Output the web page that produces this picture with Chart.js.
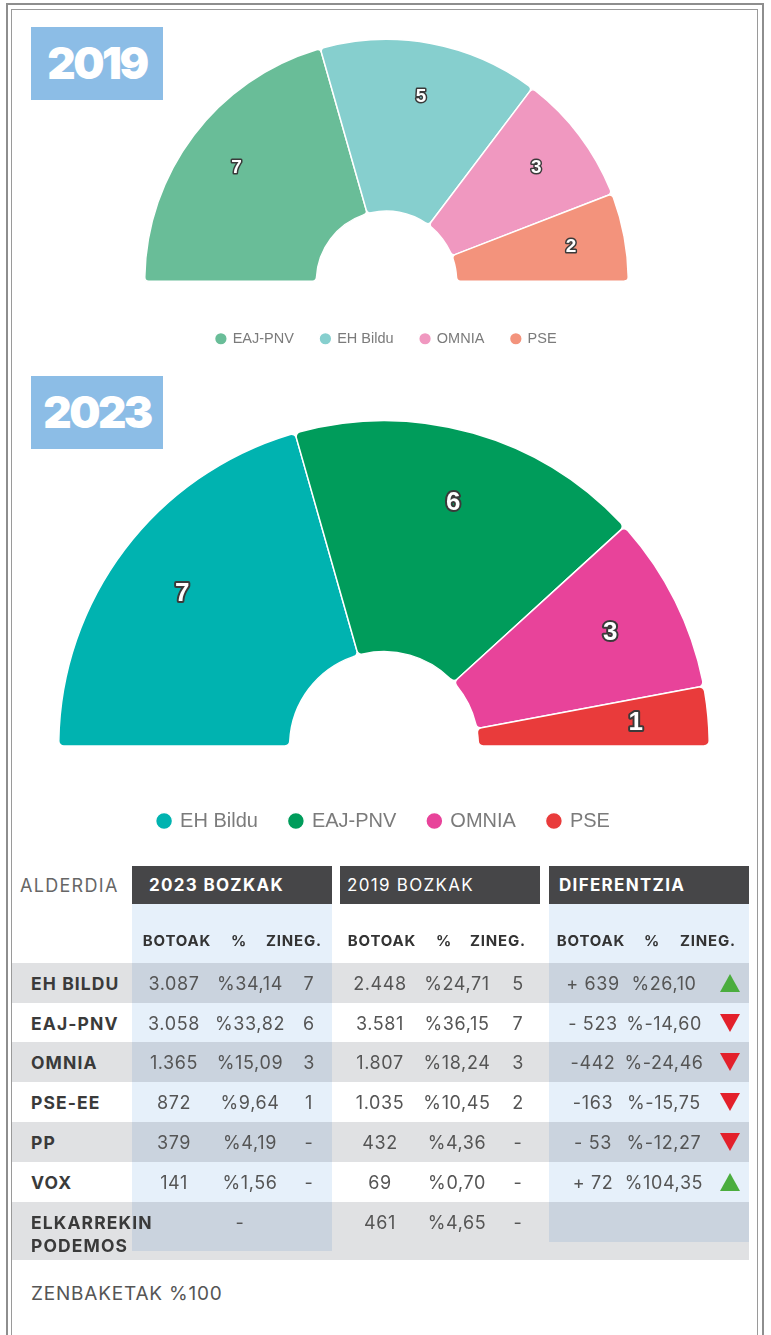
<!DOCTYPE html>
<html>
<head>
<meta charset="utf-8">
<script src="https://cdn.jsdelivr.net/npm/chart.js@4.4.1/dist/chart.umd.min.js"></script>
<style>
  html, body { margin: 0; padding: 0; background: #fff; }
  body { width: 771px; height: 1335px; position: relative; overflow: hidden; font-family: 'Inter', 'Liberation Sans', sans-serif; }
  .frame-out { position: absolute; left: 6px; top: 3px; width: 754px; height: 1340px; border: 2px solid #8e8e8e; border-bottom: none; }
  .frame-in { position: absolute; left: 11px; top: 9px; width: 745px; height: 1340px; border: 1.5px solid #9a9a9a; border-bottom: none; }
  .year { position: absolute; left: 31px; width: 132px; height: 73px; background: #8cbde6; color: #fff;
          font-family: 'Inter', sans-serif; font-weight: 900; font-size: 44px; letter-spacing: -2.5px;
          line-height: 73px; text-align: center; z-index: 2; }
  canvas { position: absolute; left: 0; }
  .cell { position: absolute; white-space: nowrap; }
  .hdr { position: absolute; top: 866px; height: 38px; width: 200px; background: #464648; color: #fff;
         font-size: 17px; line-height: 38px; letter-spacing: 1.3px; box-sizing: border-box; padding-left: 17px; }
  .row-bg { position: absolute; left: 12px; width: 737px; background: #e0e1e3; }
  .blue { position: absolute; background: #e6f0fa; mix-blend-mode: multiply; }
  .sub { font-weight: 700; font-size: 15px; color: #333; letter-spacing: 0.8px; transform: translate(-50%, -50%); }
  .val { font-size: 18px; color: #555; letter-spacing: 0.6px; transform: translate(-50%, -50%); }
  .lbl { font-weight: 700; font-size: 17.5px; color: #3a3a3a; letter-spacing: 1.1px; left: 31px; transform: translateY(-50%); line-height: 23px; }
  .tri-up { position: absolute; width: 0; height: 0; border-left: 10px solid transparent; border-right: 10px solid transparent; border-bottom: 18px solid #4bad3e; }
  .tri-down { position: absolute; width: 0; height: 0; border-left: 10px solid transparent; border-right: 10px solid transparent; border-top: 18px solid #e3202b; }
</style>
</head>
<body>
<div class="frame-out"></div>
<div class="frame-in"></div>
<div class="year" style="top:27px">2019</div>
<div class="year" style="top:376px">2023</div>
<canvas id="chart2019" width="771" height="356" style="top:0px"></canvas>
<canvas id="chart2023" width="771" height="481" style="top:360px"></canvas>
<div id="table"></div>

<script>
// seats per party (doughnut, left to right)
const parties2019 = ['EAJ-PNV', 'EH Bildu', 'OMNIA', 'PSE'];
const seats2019 = [7, 5, 3, 2];
const colors2019 = ['#69bd98', '#86cfce', '#f098c0', '#f3937c'];

const parties2023 = ['EH Bildu', 'EAJ-PNV', 'OMNIA', 'PSE'];
const seats2023 = [7, 6, 3, 1];
const colors2023 = ['#00b3b0', '#009c5b', '#e8439a', '#e93b3b'];

// table
const tableParties = ['EH BILDU', 'EAJ-PNV', 'OMNIA', 'PSE-EE', 'PP', 'VOX', 'ELKARREKIN\nPODEMOS'];
const votes2023 = ['3.087', '3.058', '1.365', '872', '379', '141', ''];
const pct2023 = ['%34,14', '%33,82', '%15,09', '%9,64', '%4,19', '%1,56', '-'];
const zineg2023 = ['7', '6', '3', '1', '-', '-', ''];
const votes2019 = ['2.448', '3.581', '1.807', '1.035', '432', '69', '461'];
const pct2019 = ['%24,71', '%36,15', '%18,24', '%10,45', '%4,36', '%0,70', '%4,65'];
const zineg2019 = ['5', '7', '3', '2', '-', '-', '-'];
const diffVotes = ['+ 639', '- 523', '-442', '-163', '- 53', '+ 72', ''];
const diffPct = ['%26,10', '%-14,60', '%-24,46', '%-15,75', '%-12,27', '%104,35', ''];
const trend = ['up', 'down', 'down', 'down', 'down', 'up', ''];

// white numbers with dark outline inside each slice
const seatLabels = {
  id: 'seatLabels',
  afterDatasetsDraw(chart, args, opts) {
    const ctx = chart.ctx;
    const meta = chart.getDatasetMeta(0);
    ctx.save();
    ctx.font = 'bold ' + opts.size + 'px "Liberation Sans", Arial, sans-serif';
    ctx.textAlign = 'center';
    ctx.textBaseline = 'middle';
    ctx.lineJoin = 'round';
    ctx.lineWidth = opts.stroke;
    ctx.strokeStyle = '#3a3a3a';
    ctx.fillStyle = '#ffffff';
    meta.data.forEach((arc, i) => {
      const p = arc.getProps(['x', 'y', 'startAngle', 'endAngle', 'outerRadius'], true);
      const mid = (p.startAngle + p.endAngle) / 2;
      const r = p.outerRadius * 0.777;
      const txt = String(chart.data.datasets[0].data[i]);
      ctx.strokeText(txt, p.x + Math.cos(mid) * r, p.y + Math.sin(mid) * r);
      ctx.fillText(txt, p.x + Math.cos(mid) * r, p.y + Math.sin(mid) * r);
    });
    ctx.restore();
  }
};

function makeHemicycle(id, labels, data, colors, cfg) {
  return new Chart(document.getElementById(id), {
    type: 'doughnut',
    data: {
      labels: labels,
      datasets: [{
        data: data,
        backgroundColor: colors,
        borderColor: '#ffffff',
        borderWidth: 1.5,
        borderRadius: cfg.radius,
        hoverOffset: 0
      }]
    },
    options: {
      responsive: false,
      animation: false,
      rotation: -90,
      circumference: 180,
      cutout: '29%',
      layout: { padding: cfg.padding },
      plugins: {
        legend: {
          position: 'bottom',
          labels: {
            color: '#7b7b7b',
            font: { size: cfg.font, family: "'Liberation Sans', Arial, sans-serif" },
            usePointStyle: true,
            pointStyle: 'circle',
            boxWidth: cfg.box,
            boxHeight: cfg.box,
            padding: cfg.gap
          }
        },
        tooltip: { enabled: false },
        seatLabels: { size: cfg.label, stroke: cfg.stroke }
      }
    },
    plugins: [seatLabels]
  });
}

makeHemicycle('chart2019', parties2019, seats2019, colors2019, {
  padding: { top: 16, left: 144, right: 142, bottom: 0 },
  font: 14.5, box: 9, gap: 27, label: 19, stroke: 3, radius: 4
});

makeHemicycle('chart2023', parties2023, seats2023, colors2023, {
  padding: { top: 27.5, left: 58, right: 61, bottom: 0 },
  font: 20, box: 12, gap: 32, label: 26, stroke: 4, radius: 5
});

// ---- table ----
const table = document.getElementById('table');
const rowTop = [963, 1003, 1042, 1082, 1122, 1162, 1202];
const rowH = [40, 39, 40, 40, 40, 40, 58];

function add(cls, text, x, y, extra) {
  const d = document.createElement('div');
  d.className = 'cell ' + cls;
  d.textContent = text;
  d.style.left = x + 'px';
  d.style.top = y + 'px';
  if (extra) Object.assign(d.style, extra);
  table.appendChild(d);
  return d;
}

rowTop.forEach((top, i) => {
  if (i % 2 === 0) {
    const bg = document.createElement('div');
    bg.className = 'row-bg';
    bg.style.top = top + 'px';
    bg.style.height = rowH[i] + 'px';
    table.appendChild(bg);
  }
});

[[132, 904, 200, 347], [549, 904, 200, 338]].forEach(b => {
  const d = document.createElement('div');
  d.className = 'blue';
  Object.assign(d.style, { left: b[0] + 'px', top: b[1] + 'px', width: b[2] + 'px', height: b[3] + 'px' });
  table.appendChild(d);
});

add('', 'ALDERDIA', 20, 885, { fontSize: '18px', color: '#666', letterSpacing: '1.3px', transform: 'translateY(-50%)' });

const hdrs = [['2023 BOZKAK', 132, 700], ['2019 BOZKAK', 340, 400], ['DIFERENTZIA', 549, 700]];
hdrs.forEach(h => {
  const d = document.createElement('div');
  d.className = 'hdr';
  d.textContent = h[0];
  d.style.left = h[1] + 'px';
  d.style.fontWeight = h[2];
  if (h[2] === 400) d.style.paddingLeft = '7px';
  else if (h[1] === 549) d.style.paddingLeft = '10px';
  table.appendChild(d);
});

const subCols = [[177, 239, 294], [382, 444, 498], [591, 652, 708]];
subCols.forEach(c => {
  add('sub', 'BOTOAK', c[0], 940);
  add('sub', '%', c[1], 940);
  add('sub', 'ZINEG.', c[2], 940);
});

tableParties.forEach((name, i) => {
  const cy = i === 6 ? 1222 : rowTop[i] + rowH[i] / 2;
  if (i === 6) {
    name.split('\n').forEach((part, k) => add('lbl', part, 31, 1222 + k * 23));
  } else {
    add('lbl', name, 31, cy);
  }
  if (i === 6) {
    add('val', pct2023[i], 240, cy);
  } else {
    add('val', votes2023[i], 174, cy);
    add('val', pct2023[i], 250, cy);
    add('val', zineg2023[i], 309, cy);
  }
  add('val', votes2019[i], 380, cy);
  add('val', pct2019[i], 457, cy);
  add('val', zineg2019[i], 518, cy);
  if (diffVotes[i]) {
    add('val', diffVotes[i], 593, cy);
    add('val', diffPct[i], 664, cy);
    const t = document.createElement('div');
    t.className = trend[i] === 'up' ? 'tri-up' : 'tri-down';
    t.style.left = '720px';
    t.style.top = (cy - 9) + 'px';
    table.appendChild(t);
  }
});

add('', 'ZENBAKETAK %100', 31, 1293, { fontSize: '19px', color: '#555', letterSpacing: '0.8px', transform: 'translateY(-50%)' });
</script>
</body>
</html>
